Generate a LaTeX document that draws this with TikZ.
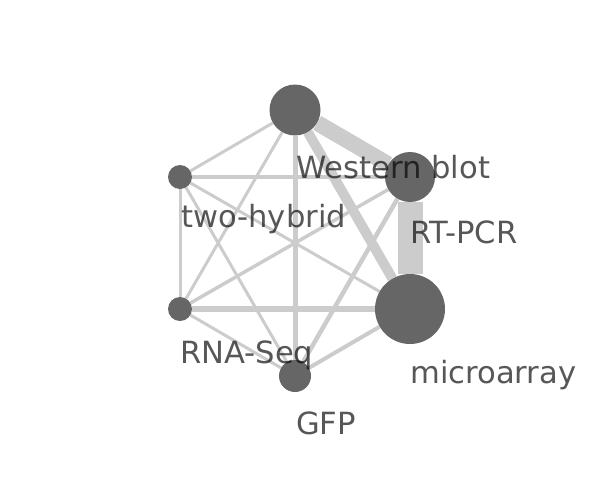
\documentclass[tikz,border=0pt]{standalone}
\usepackage{fontspec}
\setmainfont{DejaVu Sans}
\usetikzlibrary{backgrounds}
\definecolor{edgegray}{HTML}{CCCCCC}
\definecolor{nodegray}{HTML}{666666}
\tikzset{
  vtx/.style={circle, fill=nodegray, draw=none, inner sep=0pt, minimum size=#1},
  lbl/.style={anchor=base west, inner sep=0pt, text=black, text opacity=0.66,
              font=\fontsize{30.6}{36}\selectfont},
  edge/.style={draw=edgegray, line width=#1}
}
\begin{document}
\begin{tikzpicture}[x=1pt,y=-1pt]
\useasboundingbox (0,0) rectangle (613,477);
% vertices
\node[vtx=51pt] (W) at (295,110) {};
\node[vtx=50pt] (R) at (410,177) {};
\node[vtx=70pt] (M) at (410,309) {};
\node[vtx=32pt] (G) at (295,376) {};
\node[vtx=24pt] (S) at (180,309) {};
\node[vtx=24pt] (H) at (180,177) {};
% edges
\begin{scope}[on background layer]
\draw[edge=16pt] (W) -- (R);
\draw[edge=10pt] (W) -- (M);
\draw[edge=3pt] (W) -- (H);
\draw[edge=3pt] (W) -- (S);
\draw[edge=5pt] (W) -- (G);
\draw[edge=25pt] (R) -- (M);
\draw[edge=4pt] (R) -- (H);
\draw[edge=3.5pt] (R) -- (S);
\draw[edge=4.5pt] (R) -- (G);
\draw[edge=3pt] (M) -- (H);
\draw[edge=5.5pt] (M) -- (S);
\draw[edge=4pt] (M) -- (G);
\draw[edge=3pt] (H) -- (S);
\draw[edge=3pt] (H) -- (G);
\draw[edge=3pt] (S) -- (G);
\end{scope}
% labels
\node[lbl] (lW) at (296,178) {Western blot};
\node[lbl] (lR) at (410,243) {RT-PCR};
\node[lbl] (lM) at (410,383) {microarray};
\node[lbl] (lG) at (296,434) {GFP};
\node[lbl] (lS) at (180,363) {RNA-Seq};
\node[lbl] (lH) at (181,227) {two-hybrid};
\end{tikzpicture}
\end{document}
